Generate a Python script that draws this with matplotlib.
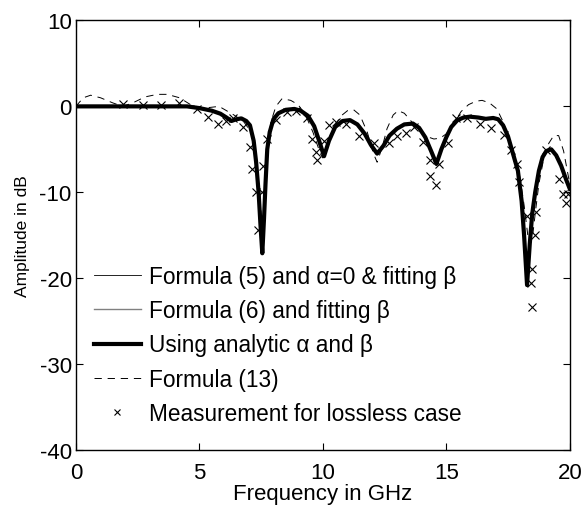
import numpy as np
import matplotlib
matplotlib.use('Agg')
import matplotlib.pyplot as plt

plt.rcParams['font.family'] = ['Liberation Sans', 'DejaVu Sans']
plt.rcParams['axes.unicode_minus'] = False

# Using analytic alpha and beta (thick curve) - thin curves coincide with it
freq_analytic = [0, 1, 2, 3, 4, 4.5, 5.0, 5.5, 5.85, 6.1, 6.3, 6.5, 6.7, 6.9, 7.05, 7.2, 7.3, 7.4,
                 7.48, 7.55, 7.62, 7.68, 7.75, 7.85, 8.0, 8.2, 8.5, 8.85, 9.1, 9.4, 9.65, 9.85,
                 10.05, 10.25, 10.5, 10.8, 11.1, 11.4, 11.7, 11.95, 12.2, 12.45, 12.7, 13.0,
                 13.3, 13.65, 13.9, 14.15, 14.4, 14.6, 14.8, 15.0, 15.2, 15.45, 15.7, 15.95,
                 16.3, 16.6, 16.9, 17.1, 17.3, 17.5, 17.7, 17.9, 18.05, 18.15, 18.27, 18.38,
                 18.48, 18.6, 18.75, 18.9, 19.05, 19.25, 19.45, 19.65, 19.85, 20.0]
amp_analytic = [0, 0, 0, 0, 0, 0, -0.2, -0.5, -0.85, -1.3, -1.7, -1.5, -1.4, -1.7, -2.2, -4.0, -6.5, -10,
                -14, -17.1, -13, -9, -5, -3, -1.5, -0.8, -0.4, -0.3, -0.5, -1.1, -2.3, -4.0,
                -5.8, -4.0, -2.4, -1.7, -1.6, -2.1, -3.2, -4.5, -5.5, -4.6, -3.4, -2.6,
                -2.1, -2.0, -2.5, -3.6, -5.3, -6.7, -5.0, -3.6, -2.4, -1.6, -1.3, -1.2,
                -1.3, -1.45, -1.35, -1.5, -2.2, -3.5, -5.5, -7.5, -11, -15, -20.8, -16,
                -12.5, -10, -7.5, -5.9, -5.2, -5.0, -5.7, -6.9, -8.5, -9.6]

# Formula (13) (dashed)
freq_f13 = [0, 0.3, 0.6, 1.0, 1.5, 1.9, 2.3, 2.8, 3.3, 3.7, 4.2, 4.7, 5.2, 5.8, 6.4, 6.8, 7.1,
            7.3, 7.45, 7.55, 7.65, 7.75, 7.9, 8.1, 8.35, 8.7, 9.0, 9.3, 9.6, 9.9, 10.0, 10.2,
            10.4, 10.7, 11.0, 11.25, 11.5, 11.8, 12.05, 12.2, 12.4, 12.6, 12.85, 13.05, 13.3,
            13.6, 13.9, 14.2, 14.5, 14.75, 15.0, 15.3, 15.6, 15.9, 16.2, 16.45, 16.75, 17.05,
            17.3, 17.55, 17.8, 18.0, 18.15, 18.3, 18.4, 18.5, 18.6, 18.75, 18.95, 19.15, 19.35,
            19.55, 19.75, 19.9, 20.0]
amp_f13 = [0, 1.0, 1.3, 1.0, 0.4, 0, 0.4, 1.1, 1.4, 1.4, 1.0, 0.1, -0.2, 0, -1.0, -1.8, -3,
           -6, -10, -15, -10, -5, -1.8, 0, 0.9, 0.7, 0.2, -1.0, -3, -5.5, -6, -4.5,
           -2.8, -1.2, -0.5, -0.4, -1.0, -3.0, -5.5, -6.5, -4.8, -2.6, -1.0, -0.5, -0.8,
           -1.8, -2.8, -3.5, -3.8, -3.7, -3.2, -2.0, -0.6, 0.2, 0.6, 0.7, 0.4, -0.3,
           -1.8, -3.8, -6.0, -8.5, -11.5, -15, -16, -15, -12.5, -9, -6, -4.3, -3.4,
           -3.4, -5.2, -7.5, -9]

# Measurement for lossless case
freq_meas = [1.92, 2.73, 3.43, 4.18, 4.89, 5.36, 5.74, 6.07, 6.37, 6.77, 7.04, 7.15, 7.29, 7.38,
             7.52, 7.56, 7.72, 8.12, 8.55, 8.93, 9.34, 9.58, 9.72, 9.78, 10.06, 10.26, 10.55,
             10.95, 11.47, 12.06, 12.68, 13.02, 13.36, 13.7, 14.06, 14.33, 14.71, 14.33, 14.6,
             15.05, 15.41, 15.82, 16.36, 16.83, 17.34, 17.61, 17.87, 17.95, 18.25, 18.62, 18.58,
             18.48, 18.42, 18.48, 19.05, 19.57, 19.73, 19.92, 19.84]
amp_meas = [0.3, 0.2, 0.2, 0.4, -0.3, -1.2, -2.0, -1.7, -1.3, -2.4, -4.7, -7.3, -10.0, -14.4,
            -10.0, -6.9, -3.8, -1.6, -0.65, -0.5, -1.4, -3.8, -5.3, -6.3, -4.0, -2.2, -1.8,
            -2.1, -3.4, -4.3, -4.3, -3.5, -3.1, -2.4, -4.1, -6.3, -6.7, -8.1, -9.1,
            -4.3, -1.4, -1.4, -2.1, -2.5, -3.3, -5.1, -6.7, -8.8, -12.8, -12.3, -15.0,
            -18.9, -20.6, -23.4, -5.1, -8.4, -10.2, -10.2, -11.3]

labels = ['Formula (5) and \u03b1=0 & fitting \u03b2',
          'Formula (6) and fitting \u03b2',
          'Using analytic \u03b1 and \u03b2',
          'Formula (13)',
          'Measurement for lossless case']

fig = plt.figure(figsize=(5.88, 5.10), dpi=100)
ax = fig.add_axes([0.129, 0.1157, 0.840, 0.8422])

ax.plot(freq_analytic, amp_analytic, color='black', lw=0.6, label=labels[0])
ax.plot(freq_analytic, amp_analytic, color='#808080', lw=1.0, label=labels[1])
ax.plot(freq_analytic, amp_analytic, color='black', lw=3.0, label=labels[2])
ax.plot(freq_f13, amp_f13, color='black', lw=0.7, dashes=(7.5, 6), label=labels[3])
ax.plot(freq_meas, amp_meas, ls='none', marker='x', color='black', ms=6, mew=0.8,
        label=labels[4])

ax.set_xlim(0, 20)
ax.set_ylim(-40, 10)
ax.set_xticks([0, 5, 10, 15, 20])
ax.set_yticks([-40, -30, -20, -10, 0, 10])
ax.tick_params(direction='in', length=5, width=0.8, labelsize=16, top=True, right=True)
ax.tick_params(axis='x', pad=9)
ax.tick_params(axis='y', pad=3)
for s in ax.spines.values():
    s.set_linewidth(1.0)

ax.set_xlabel('Frequency in GHz', fontsize=16, labelpad=0)
ax.set_ylabel('Amplitude in dB', fontsize=12.5)
ax.yaxis.set_label_coords(-0.092, 0.5)

ax.legend(loc='center left', bbox_to_anchor=(0.0, 0.2445), frameon=False, fontsize=16.3,
          handlelength=2.07, handletextpad=0.36, labelspacing=0.5, borderaxespad=0.4,
          numpoints=1, markerscale=0.7)

fig.savefig('out.png', dpi=100)
